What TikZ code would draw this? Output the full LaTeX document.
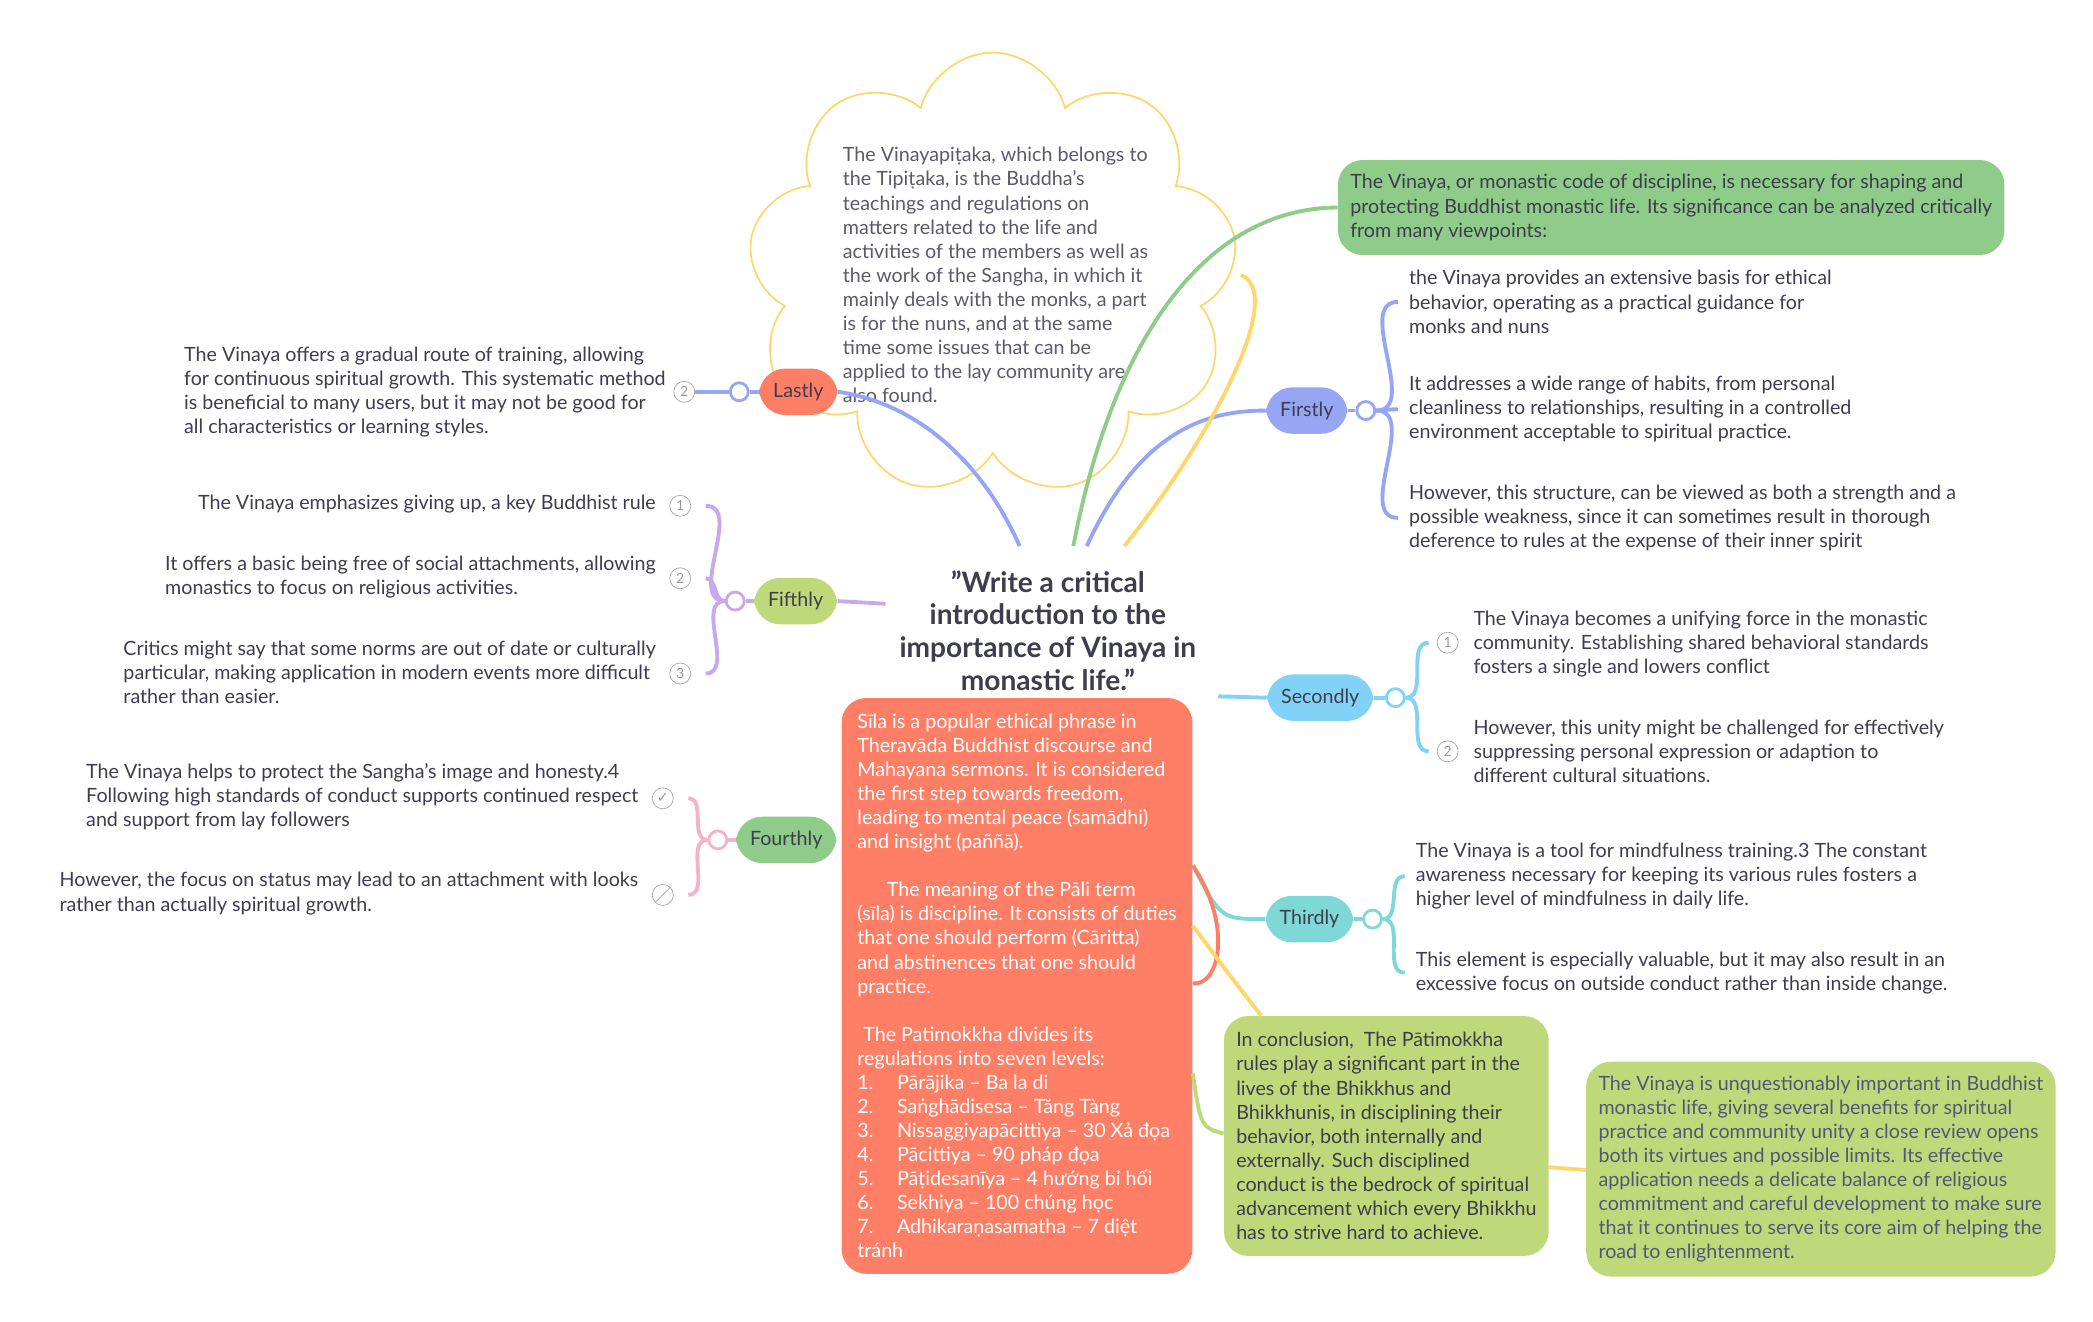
\documentclass[tikz,border=0pt]{standalone}
\usepackage{fontspec}
\setmainfont{Lato}
\newfontfamily\symfont{DejaVu Sans}
\usetikzlibrary{positioning, shapes, arrows.meta, calc}
\definecolor{txt}{HTML}{3D3D4D}
\definecolor{cblue}{HTML}{97A6F4}
\definecolor{csky}{HTML}{82D2F7}
\definecolor{cteal}{HTML}{7ED8D5}
\definecolor{cred}{HTML}{FF7F66}
\definecolor{cgreen}{HTML}{8FCC8A}
\definecolor{colive}{HTML}{BFD97A}
\definecolor{cyel}{HTML}{FFD66B}
\definecolor{cpurp}{HTML}{C9A8EC}
\definecolor{cpink}{HTML}{F4B3C8}
\tikzset{
  body/.style={font=\fontsize{11.2}{13.7}\selectfont, text=txt, align=left, anchor=west, inner sep=0pt},
  bodyr/.style={body, align=left, anchor=east},
  tag/.style={rounded corners=15pt, font=\fontsize{11.2}{13.7}\selectfont, text=txt, minimum height=0.93cm, inner xsep=8pt},
  box/.style={rounded corners=14pt, font=\fontsize{11.2}{13.7}\selectfont, align=left, inner sep=7pt, anchor=north west},
  hub/.style={circle, draw=#1, fill=white, line width=1.6pt, minimum size=0.36cm, inner sep=0pt},
  icon/.style={circle, draw=gray!70, text=gray!80, minimum size=0.42cm, inner sep=0pt, font=\fontsize{8}{8}\selectfont},
  link/.style={line width=2.2pt, #1}
}
\begin{document}
\begin{tikzpicture}[x=0.02684cm, y=-0.02684cm]
\useasboundingbox (0,0) rectangle (1560,985);
% Cloud
\node[cloud, cloud puffs=9, aspect=1.1, draw=cyel, line width=1pt, minimum width=9.8cm, minimum height=8.9cm] (cloud) at (740,205) {};
\node[body, text=txt!85] (cloudtxt) at (628,205) {The Vinayapiṭaka, which belongs to\\the Tipiṭaka, is the Buddha's\\teachings and regulations on\\matters related to the life and\\activities of the members as well as\\the work of the Sangha, in which it\\mainly deals with the monks, a part\\is for the nuns, and at the same\\time some issues that can be\\applied to the lay community are\\also found.};
% Central topic
\node[font=\fontsize{16}{18.7}\selectfont\bfseries, text=txt, align=center] (title) at (781,470) {\char34 Write a critical\\introduction to the\\importance of Vinaya in\\monastic life.\char34};
\coordinate (c1) at (760,407); \coordinate (c2) at (800,407);
\coordinate (c3) at (810,407); \coordinate (c4) at (838,407);
\coordinate (c5) at (660,450); \coordinate (c6) at (908,519);
% Main tags
\node[tag, fill=cblue] (first) at (974,306) {Firstly};
\node[tag, fill=csky] (second) at (984,520) {Secondly};
\node[tag, fill=cteal] (third) at (976,685) {Thirdly};
\node[tag, fill=cred] (last) at (595,292) {Lastly};
\node[tag, fill=colive] (fifth) at (593,448) {Fifthly};
\node[tag, fill=cgreen] (fourth) at (586,626) {Fourthly};
\node[box, fill=cgreen, text=txt, minimum width=13.3cm, minimum height=1.9cm] (intro) at (997,119) {The Vinaya, or monastic code of discipline, is necessary for shaping and\\protecting Buddhist monastic life. Its significance can be analyzed critically\\from many viewpoints:};
\node[box, fill=cred, text=white, minimum width=6.9cm, minimum height=11.46cm, inner sep=9pt] (sila) at (627,520) {Sīla is a popular ethical phrase in\\Theravāda Buddhist discourse and\\Mahayana sermons. It is considered\\the first step towards freedom,\\leading to mental peace (samādhi)\\and insight (paññā).\\[13.7pt]
\hspace*{1.5em}The meaning of the Pāli term\\(sīla) is discipline. It consists of duties\\that one should perform (Cāritta)\\and abstinences that one should\\practice.\\[13.7pt]
\hspace*{0.3em}The Patimokkha divides its\\regulations into seven levels:\\
1.\hspace{1.2em}Pārājika – Ba la di\\
2.\hspace{1.2em}Saṅghādisesa – Tăng Tàng\\
3.\hspace{1.2em}Nissaggiyapācittiya – 30 Xả đọa\\
4.\hspace{1.2em}Pācittiya – 90 pháp đọa\\
5.\hspace{1.2em}Pāṭidesanīya – 4 hướng bỉ hối\\
6.\hspace{1.2em}Sekhiya – 100 chúng học\\
7.\hspace{1.2em}Adhikaraṇasamatha – 7 diệt\\tránh};
\node[box, fill=colive, text=txt, minimum width=6.4cm, minimum height=4.8cm] (concl) at (912,757) {In conclusion,\ \ The Pātimokkha\\rules play a significant part in the\\lives of the Bhikkhus and\\Bhikkhunis, in disciplining their\\behavior, both internally and\\externally. Such disciplined\\conduct is the bedrock of spiritual\\advancement which every Bhikkhu\\has to strive hard to achieve.};
\node[box, fill=colive, text=txt!75!cblue, minimum width=9.34cm, minimum height=4.3cm] (final) at (1182,791) {The Vinaya is unquestionably important in Buddhist\\monastic life, giving several benefits for spiritual\\practice and community unity a close review opens\\both its virtues and possible limits. Its effective\\application needs a delicate balance of religious\\commitment and careful development to make sure\\that it continues to serve its core aim of helping the\\road to enlightenment.};
% Main connectors
\draw[link=cblue] (c1) .. controls (730,340) and (680,300) .. (last.east);
\draw[link=cgreen] (c2) .. controls (830,250) and (900,155) .. (intro.west);
\draw[link=cblue] (c3) .. controls (850,320) and (900,306) .. (first.west);
\draw[link=cyel] (c4) .. controls (900,330) and (960,220) .. (925,205);
\draw[link=cpurp] (c5) -- (fifth.east);
\draw[link=csky] (c6) -- (second.west);
\draw[link=cteal] (sila.north east |- 0,645) .. controls (910,685) .. (third.west);
\draw[link=cred] (sila.north east |- 0,645) .. controls ($(sila.north east |- 0,690)+(30,0)$) and ($(sila.north east |- 0,735)+(20,0)$) .. (sila.north east |- 0,733);
\draw[link=cyel] (sila.north east |- 0,690) .. controls (915,725) .. (940,757);
\draw[link=colive] (sila.north east |- 0,800) .. controls (895,840) .. (concl.west |- 0,845);
\draw[link=cyel] (concl.east |- 0,870) -- (final.west |- 0,872);
% Firstly
\node[hub=cblue] (h1) at (1018,306) {};
\draw[link=cblue] (first.east) -- (h1);
\node[body] (f1) at (1050,225) {the Vinaya provides an extensive basis for ethical\\behavior, operating as a practical guidance for\\monks and nuns};
\node[body] (f2) at (1050,305) {It addresses a wide range of habits, from personal\\cleanliness to relationships, resulting in a controlled\\environment acceptable to spiritual practice.};
\node[body] (f3) at (1050,386) {However, this structure, can be viewed as both a strength and a\\possible weakness, since it can sometimes result in thorough\\deference to rules at the expense of their inner spirit};
\foreach \n in {f1,f2,f3}
  \draw[link=cblue] (h1.east) to[out=0,in=180] ($(\n.west)+(-8,0)$);
% Secondly
\node[hub=csky] (h2) at (1040,520) {};
\draw[link=csky] (second.east) -- (h2);
\node[body] (s1) at (1098,480) {The Vinaya becomes a unifying force in the monastic\\community. Establishing shared behavioral standards\\fosters a single and lowers conflict};
\node[body] (s2) at (1098,560) {However, this unity might be challenged for effectively\\suppressing personal expression or adaption to\\different cultural situations.};
\node[icon] (s1i) at (1079,479) {1};
\node[icon] (s2i) at (1079,560) {2};
\foreach \n in {s1i,s2i}
  \draw[link=csky] (h2.east) to[out=0,in=180] ($(\n.west)+(-6,0)$);
% Thirdly
\node[hub=cteal] (h3) at (1023,685) {};
\draw[link=cteal] (third.east) -- (h3);
\node[body] (t1) at (1055,653) {The Vinaya is a tool for mindfulness training.3 The constant\\awareness necessary for keeping its various rules fosters a\\higher level of mindfulness in daily life.};
\node[body] (t2) at (1055,725) {This element is especially valuable, but it may also result in an\\excessive focus on outside conduct rather than inside change.};
\foreach \n in {t1,t2}
  \draw[link=cteal] (h3.east) to[out=0,in=180] ($(\n.west)+(-8,0)$);
% Lastly
\node[hub=cblue] (h4) at (551,292) {};
\draw[link=cblue] (last.west) -- (h4);
\node[body] (l1) at (137,292) {The Vinaya offers a gradual route of training, allowing\\for continuous spiritual growth. This systematic method\\is beneficial to many users, but it may not be good for\\all characteristics or learning styles.};
\node[icon] (l1i) at (510,292) {2};
\draw[link=cblue] (h4.west) -- (l1i.east);
% Fifthly
\node[hub=cpurp] (h5) at (548,448) {};
\draw[link=cpurp] (fifth.west) -- (h5);
\node[bodyr] (v1) at (489,376) {The Vinaya emphasizes giving up, a key Buddhist rule};
\node[bodyr, align=left] (v2) at (489,430) {It offers a basic being free of social attachments, allowing\\monastics to focus on religious activities.};
\node[bodyr, align=left] (v3) at (489,501) {Critics might say that some norms are out of date or culturally\\particular, making application in modern events more difficult\\rather than easier.};
\node[icon] at (507,377) {1};
\node[icon] at (507,431) {2};
\node[icon] at (507,502) {3};
\foreach \y in {377,431,502}
  \draw[link=cpurp] (h5.west) to[out=180,in=0] (526,\y);
% Fourthly
\node[hub=cpink] (h6) at (535,626) {};
\draw[link=cpink] (fourth.west) -- (h6);
\node[bodyr, align=left] (r1) at (476,594) {The Vinaya helps to protect the Sangha's image and honesty.4\\Following high standards of conduct supports continued respect\\and support from lay followers};
\node[bodyr] (r2) at (476,666) {However, the focus on status may lead to an attachment with looks\\rather than actually spiritual growth.};
\node[icon, font=\symfont\fontsize{8}{8}\selectfont] at (494,595) {✓};
\node[icon] (r2i) at (494,667) {};
\draw[gray!70] (r2i.south west) -- (r2i.north east);
\foreach \y in {595,667}
  \draw[link=cpink] (h6.west) to[out=180,in=0] (513,\y);
\end{tikzpicture}
\end{document}
